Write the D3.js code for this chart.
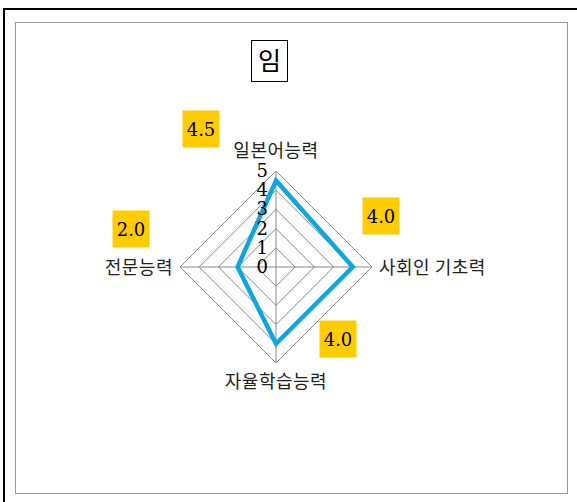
<!DOCTYPE html>
<html>
<head>
<meta charset="utf-8">
<script src="https://cdn.jsdelivr.net/npm/d3@7"></script>
<style>
body { margin:0; background:#fff; }
svg { display:block; }
.cat { font-family:"Noto Sans CJK KR", sans-serif; font-size:18px; fill:#222; }
.num { font-family:"DejaVu Serif", "Liberation Serif", serif; font-size:18px; fill:#000; }
</style>
</head>
<body>
<svg id="chart"></svg>
<script>
// chart data
var title = "임";
var categories = ["일본어능력", "사회인 기초력", "자율학습능력", "전문능력"];
var scores = [4.5, 4.0, 4.0, 2.0];
var scoreLabels = ["4.5", "4.0", "4.0", "2.0"];
var tickValues = [0, 1, 2, 3, 4, 5];

var screen = {width:577, height:502};
var center = {x:276, y:267};
var radius = 96;

// where each score badge sits, relative to the centre
var badgeOffsets = [[-75,-138],[105,-51],[62,72],[-145,-38]];

var svg = d3.select("#chart")
    .attr("width", screen.width)
    .attr("height", screen.height);

// outer frame (only left/top show inside the window) and the inner panel
svg.append("rect")
    .attr("x", 4).attr("y", 9)
    .attr("width", 600).attr("height", 520)
    .attr("fill", "none").attr("stroke", "#000").attr("stroke-width", 2);
svg.append("rect")
    .attr("x", 15.5).attr("y", 22.5)
    .attr("width", 552).attr("height", 471)
    .attr("fill", "#fff").attr("stroke", "#999").attr("stroke-width", 1);

// title in a box
var tg = svg.append("g");
tg.append("rect")
    .attr("x", 251.5).attr("y", 40.5)
    .attr("width", 36).attr("height", 41)
    .attr("fill", "#fff").attr("stroke", "#000").attr("stroke-width", 1);
tg.append("text")
    .attr("x", 269.5).attr("y", 70)
    .attr("text-anchor", "middle")
    .style("font-family", "'Noto Sans CJK KR', sans-serif")
    .style("font-size", "25px")
    .text(title);

var rScale = d3.scaleLinear().domain([0, 5]).range([0, radius]);
var angle = function(i) { return i * 2 * Math.PI / categories.length; };
var pt = function(i, v) {
    return [center.x + rScale(v) * Math.sin(angle(i)),
            center.y - rScale(v) * Math.cos(angle(i))];
};

var g = svg.append("g");

// grid rings
g.selectAll("path.ring")
    .data(tickValues.filter(function(t){ return t > 0; }))
    .enter()
    .append("path")
    .attr("class", "ring")
    .attr("d", function(t) {
        return d3.line()(categories.map(function(c, i){ return pt(i, t); })) + "Z";
    })
    .attr("fill", "none").attr("stroke", "#888").attr("stroke-width", 1);

// spokes
g.selectAll("line.spoke")
    .data(categories)
    .enter()
    .append("line")
    .attr("x1", center.x).attr("y1", center.y)
    .attr("x2", function(c, i){ return pt(i, 5)[0]; })
    .attr("y2", function(c, i){ return pt(i, 5)[1]; })
    .attr("stroke", "#888").attr("stroke-width", 1);

// score polygon
g.append("path")
    .attr("d", d3.line()(scores.map(function(s, i){ return pt(i, s); })) + "Z")
    .attr("fill", "none")
    .attr("stroke", "#0ea5e0")
    .attr("stroke-width", 4.5)
    .attr("stroke-linejoin", "miter");

// tick labels along the top axis
g.selectAll("text.tick")
    .data(tickValues)
    .enter()
    .append("text")
    .attr("class", "num")
    .attr("x", center.x - 8)
    .attr("y", function(t){ return center.y - rScale(t) + 6; })
    .attr("text-anchor", "end")
    .text(function(t){ return t; });

// category labels
var catPos = [
    {dx:0, dy:-110, anchor:"middle"},
    {dx:103, dy:7, anchor:"start"},
    {dx:0, dy:121, anchor:"middle"},
    {dx:-103, dy:7, anchor:"end"}
];
g.selectAll("text.cat")
    .data(categories)
    .enter()
    .append("text")
    .attr("class", "cat")
    .attr("x", function(c, i){ return center.x + catPos[i].dx; })
    .attr("y", function(c, i){ return center.y + catPos[i].dy; })
    .attr("text-anchor", function(c, i){ return catPos[i].anchor; })
    .style("letter-spacing", "0.5px")
    .text(function(c){ return c; });

// score badges
var badges = g.selectAll("g.badge")
    .data(scoreLabels)
    .enter()
    .append("g")
    .attr("transform", function(s, i){
        return "translate(" + (center.x + badgeOffsets[i][0]) + "," + (center.y + badgeOffsets[i][1]) + ")";
    });
badges.append("rect")
    .attr("x", -18.5).attr("y", -18.5)
    .attr("width", 37).attr("height", 37)
    .attr("fill", "#ffcc00");
badges.append("text")
    .attr("class", "num")
    .attr("text-anchor", "middle")
    .attr("y", 6.5)
    .text(function(s){ return s; });
</script>
</body>
</html>
